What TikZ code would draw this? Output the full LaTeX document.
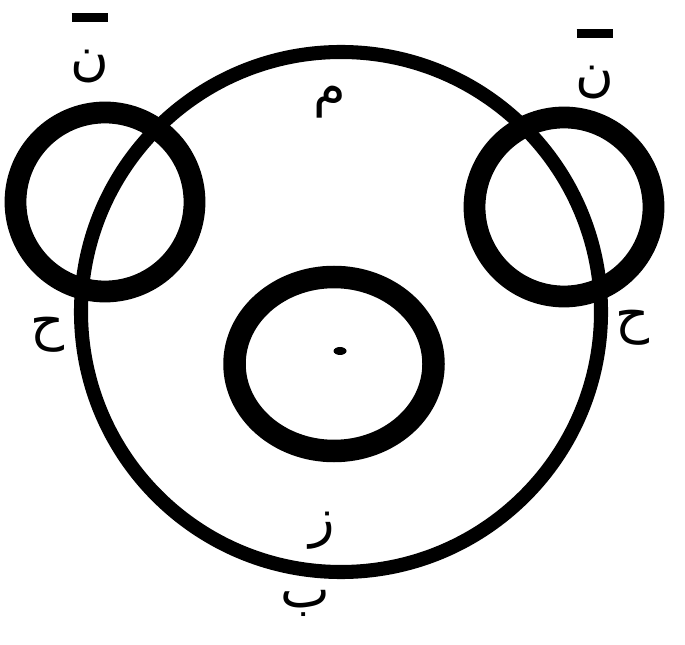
\documentclass[tikz,border=0pt]{standalone}
\usepackage{fontspec}
\usepackage{tikz}
\usetikzlibrary{shapes.geometric}
\TeXXeTstate=1
\newfontfamily\arabicfont[Script=Arabic]{DejaVu Sans}
\newcommand{\ArLetter}[1]{{\arabicfont\fontsize{15}{15}\selectfont\beginR #1\endR}}
\newcommand{\BarLetter}[1]{\rule{1.05em}{2.6pt}\\[3pt]\ArLetter{#1}}

\begin{document}
\begin{tikzpicture}[
  bigRing/.style={circle,draw,line width=4pt,inner sep=0pt},
  sideRing/.style={circle,draw,line width=6.2pt,inner sep=0pt,minimum size=1.79cm},
  innerRing/.style={ellipse,draw,line width=6.4pt,inner sep=0pt},
  letter/.style={inner sep=0pt,align=center}
]
\useasboundingbox (0,0) rectangle (6.85,6.44);

% circles
\node[bigRing,minimum size=5.2cm] (outer) at (3.41,3.32) {};
\node[sideRing] (leftRing) at (1.05,4.42) {};
\node[sideRing] (rightRing) at (5.64,4.37) {};
\node[innerRing,minimum width=1.99cm,minimum height=1.74cm] (inner) at (3.34,2.80) {};
\node[ellipse,fill,inner sep=0pt,minimum width=0.13cm,minimum height=0.08cm] (centre) at (3.40,2.93) {};

% letters
\node[letter] (nunLeft) at (0.90,5.96) {\BarLetter{ن}};
\node[letter] (nunRight) at (5.95,5.80) {\BarLetter{ن}};
\node[letter] (mim) at (3.30,5.42) {\ArLetter{م}};
\node[letter] (haLeft) at (0.48,3.09) {\ArLetter{ح}};
\node[letter] (haRight) at (6.32,3.16) {\ArLetter{ح}};
\node[letter] (zay) at (3.22,1.13) {\ArLetter{ز}};
\node[letter] (ba) at (3.05,0.41) {\ArLetter{ب}};
\end{tikzpicture}
\end{document}
